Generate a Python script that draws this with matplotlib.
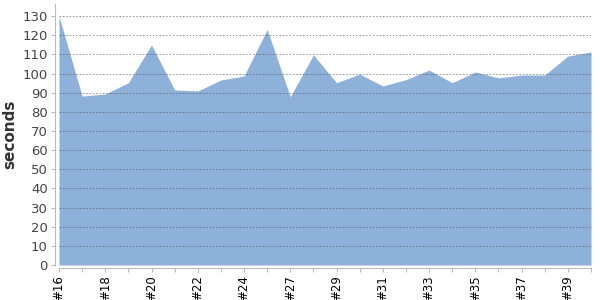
import matplotlib
matplotlib.use("Agg")
import matplotlib.pyplot as plt

# build numbers (#26 is missing in the source)
builds = ["#16", "#17", "#18", "#19", "#20", "#21", "#22", "#23", "#24", "#25",
          "#27", "#28", "#29", "#30", "#31", "#32", "#33", "#34", "#35", "#36",
          "#37", "#38", "#39", "#40"]
seconds = [130, 88.2, 89.3, 95.2, 114.9, 91.4, 90.9, 96.6, 98.7, 123.0,
           87.9, 109.7, 95.2, 99.7, 93.5, 96.8, 101.8, 95.2, 100.8, 97.7,
           99.2, 99.2, 109.1, 111.2]
yticks = list(range(0, 131, 10))

fig = plt.figure(figsize=(6, 3), dpi=100)
ax = fig.add_axes([59 / 600, 1 - 265 / 300, 532 / 600, 261 / 300])

# spines first: set_position resets the tick labels
for side in ("top", "right"):
    ax.spines[side].set_visible(False)
for side in ("left", "bottom"):
    ax.spines[side].set_color("#bbbbbb")
ax.spines["left"].set_position(("outward", 3))
ax.spines["bottom"].set_position(("outward", 2.2))

x = list(range(len(builds)))
ax.fill_between(x, seconds, 0, color="#8eb1da", linewidth=0, zorder=1)

ax.set_xlim(0, len(builds) - 1)
ax.set_ylim(0, 136.3)
ax.set_yticks(yticks)
ax.set_xticks(x)
ax.tick_params(axis="y", labelsize=9.5, labelcolor="#444444", length=3,
               color="#bbbbbb", pad=2)
ax.tick_params(axis="x", length=3, color="#bbbbbb", pad=2, labelsize=8.5,
               labelcolor="#000000", labelrotation=90)
ax.set_xticklabels([b if i % 2 == 0 else "" for i, b in enumerate(builds)])

ax.grid(axis="y", color="#555555", linestyle=(0, (2, 2)), linewidth=0.6,
        alpha=0.7, zorder=2)
ax.set_axisbelow(False)

ax.set_ylabel("seconds", fontsize=11, fontweight="bold", color="#333333",
              labelpad=4)

fig.savefig("out.png")
